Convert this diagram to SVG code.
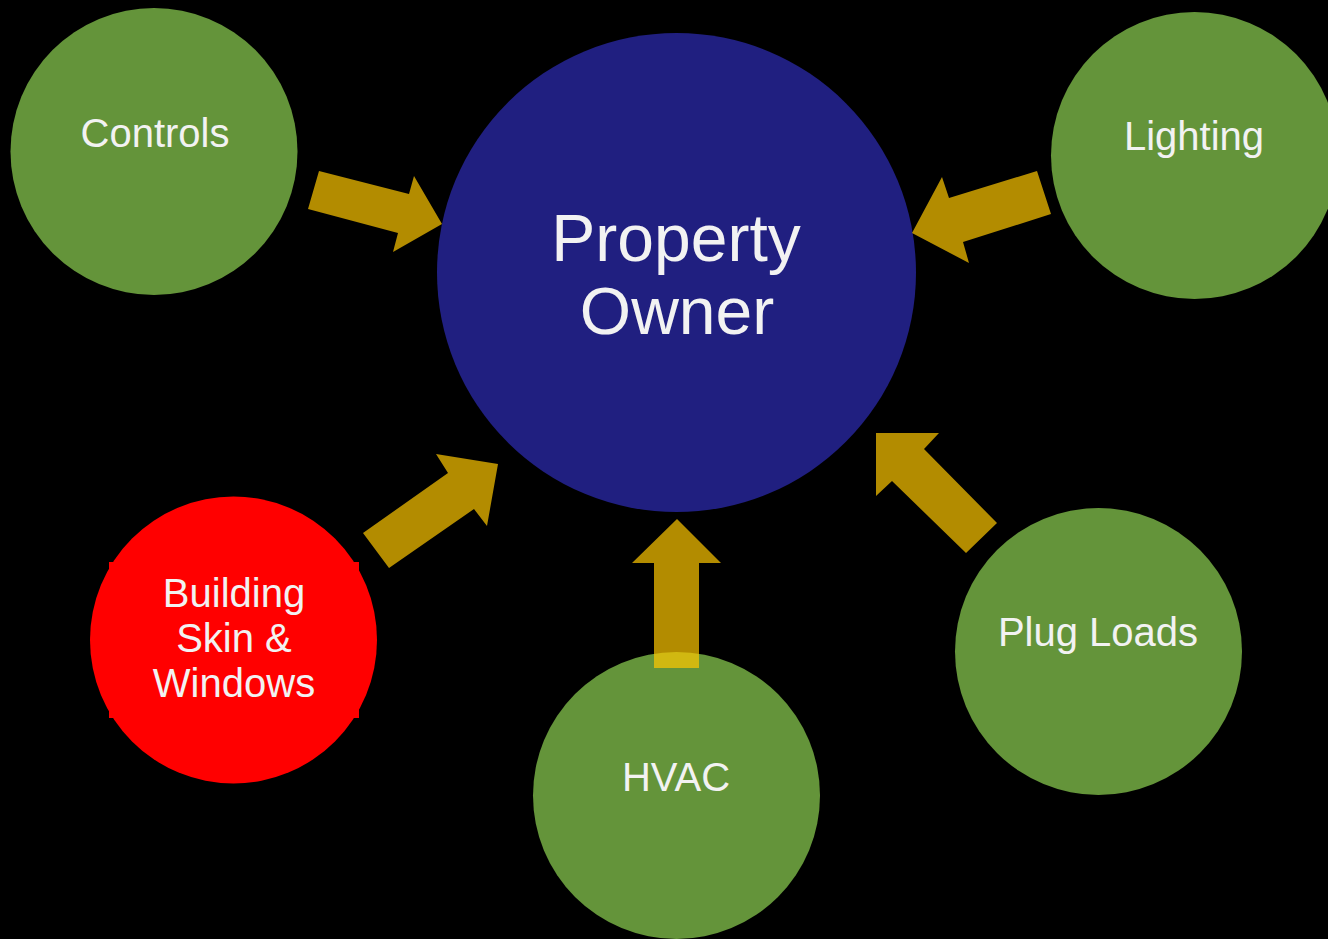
<svg xmlns="http://www.w3.org/2000/svg" width="1328" height="939" viewBox="0 0 1328 939">
<style>
.bg{fill:#000000}
.green{fill:#64943A}
.blue{fill:#201F80}
.red{fill:#FF0000}
.lbl{font-family:"Liberation Sans",Arial,sans-serif;font-size:40px;fill:#F2F2F2;text-anchor:middle}
.big{font-family:"Liberation Sans",Arial,sans-serif;font-size:66px;fill:#F2F2F2;text-anchor:middle}
.arrow{fill:#FFC700;fill-opacity:0.7}
</style>
<rect class="bg" x="0" y="0" width="1328" height="939"/>
<g id="property-owner">
<circle class="blue" cx="676.5" cy="272.5" r="239.5"/>
<text class="big" x="676" y="261">Property</text>
<text class="big" x="677" y="334">Owner</text>
</g>
<g id="controls">
<circle class="green" cx="154" cy="151.5" r="143.5"/>
<text class="lbl" x="155" y="147">Controls</text>
</g>
<g id="lighting">
<circle class="green" cx="1194.5" cy="155.5" r="143.5"/>
<text class="lbl" x="1194" y="150">Lighting</text>
</g>
<g id="building-skin">
<rect class="red" x="109" y="562" width="250" height="156"/>
<circle class="red" cx="233.5" cy="640" r="143.5"/>
<text class="lbl" x="234" y="607">Building</text>
<text class="lbl" x="234" y="652">Skin &amp;</text>
<text class="lbl" x="234" y="697">Windows</text>
</g>
<g id="hvac">
<circle class="green" cx="676.5" cy="795.5" r="143.5"/>
<text class="lbl" x="676" y="791">HVAC</text>
</g>
<g id="plug-loads">
<circle class="green" cx="1098.5" cy="651.5" r="143.5"/>
<text class="lbl" x="1098" y="646">Plug Loads</text>
</g>
<g id="connectors">
<polygon class="arrow" points="319,171 409,194 414,176 442,224 393,252 398,233 308,209"/>
<polygon class="arrow" points="1037,171 949,198 942,177 912,233 969,263 963,242 1051,214"/>
<polygon class="arrow" points="363,533 448,473 436,454 498,464 487,526 474,509 389,568"/>
<polygon class="arrow" points="654,668 654,563 632,563 677,519 721,563 699,563 699,668"/>
<polygon class="arrow" points="997,523 924,449 939,433 876,433 876,496 892,481 966,553"/>
</g>
</svg>
